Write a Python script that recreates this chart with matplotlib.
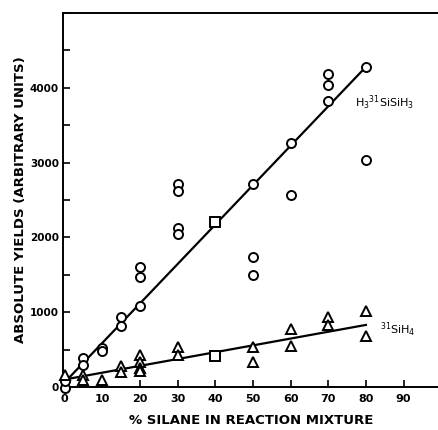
import matplotlib.pyplot as plt
import matplotlib.ticker as mticker

# H3 31Si SiH3 yields (open circles)
disil_x = [0, 0, 5, 5, 10, 10, 15, 15, 20, 20, 20, 30, 30, 30, 30,
           50, 50, 50, 60, 60, 70, 70, 70, 80, 80]
disil_y = [-15, 85, 385, 295, 520, 480, 940, 815, 1610, 1475, 1083,
           2720, 2620, 2120, 2045, 2710, 1740, 1500, 3265, 2565,
           4190, 4040, 3830, 4275, 3035]

# 31SiH4 yields (open triangles)
silane_x = [0, 5, 5, 10, 15, 15, 20, 20, 20, 20, 30, 30,
            50, 50, 60, 60, 70, 70, 80, 80]
silane_y = [160, 160, 95, 95, 285, 205, 430, 340, 250, 215, 540, 430,
            540, 340, 770, 550, 940, 830, 1020, 680]

# squares at 40 %
square_x = [40, 40]
square_y = [2200, 420]

# hand-drawn fit lines
fit_disil_x = [0, 80]
fit_disil_y = [60, 4280]
fit_silane_x = [0, 80]
fit_silane_y = [100, 830]

xticks = [0, 10, 20, 30, 40, 50, 60, 70, 80, 90]
yticks = [0, 1000, 2000, 3000, 4000]

fig = plt.figure(figsize=(4.39, 4.30), dpi=100)
ax = fig.add_axes([63 / 439, 1 - 387 / 430, 1 - 63 / 439, (387 - 13) / 430])

ax.plot(fit_disil_x, fit_disil_y, color='black', lw=1.6, zorder=2)
ax.plot(fit_silane_x, fit_silane_y, color='black', lw=1.6, zorder=2)

mk = dict(linestyle='none', markerfacecolor='white', markeredgecolor='black',
          markeredgewidth=1.4, clip_on=False, zorder=3)
ax.plot(disil_x, disil_y, marker='o', markersize=6.5, **mk)
ax.plot(silane_x, silane_y, marker='^', markersize=7.5, **mk)
ax.plot(square_x, square_y, marker='s', markersize=6.5, **mk)

ax.text(77, 3800, r'H$_3$$^{31}$SiSiH$_3$', fontsize=8, va='center', ha='left')
ax.text(83.7, 760, r'$^{31}$SiH$_4$', fontsize=8, va='center', ha='left')

ax.set_xlim(-0.4, 99.4)
ax.set_ylim(0, 5000)
ax.set_xticks(xticks)
ax.set_yticks(yticks)
ax.yaxis.set_minor_locator(mticker.MultipleLocator(500))
ax.tick_params(axis='both', which='both', direction='in', width=1.2)
ax.tick_params(axis='x', which='major', length=5, labelsize=8, pad=5)
ax.tick_params(axis='y', which='major', length=5, labelsize=7.5, pad=3)
ax.tick_params(axis='y', which='minor', length=5)
for lab in ax.get_xticklabels() + ax.get_yticklabels():
    lab.set_fontweight('bold')

ax.spines['right'].set_visible(False)
for s in ['left', 'top', 'bottom']:
    ax.spines[s].set_linewidth(1.4)

ax.set_xlabel('% SILANE IN REACTION MIXTURE', fontsize=9.5, fontweight='bold', labelpad=7)
ax.set_ylabel('ABSOLUTE YIELDS (ARBITRARY UNITS)', fontsize=9.5, fontweight='bold', labelpad=2)

fig.savefig('out.png', dpi=100)
